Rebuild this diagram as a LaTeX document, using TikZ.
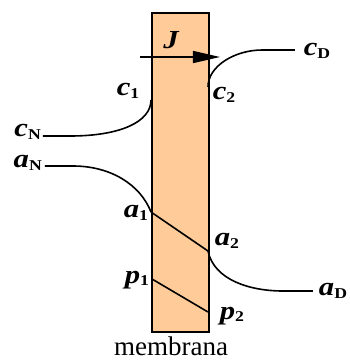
\documentclass[tikz,border=0pt]{standalone}
\usepackage{fontspec}
\usepackage{graphicx}
\setmainfont{Liberation Serif}
\usetikzlibrary{arrows.meta}
\definecolor{memfill}{HTML}{FFCC99}
\newcommand\lbl[2]{\scalebox{1.18}[1]{{\fontsize{26}{30}\selectfont\bfseries\itshape #1}\raisebox{-2.5pt}{\fontsize{15}{18}\selectfont\bfseries #2}}}
\tikzset{
  curve/.style={line width=1.6pt, black},
  membox/.style={draw=black, line width=1.8pt, fill=memfill},
  labeltext/.style={inner sep=0pt, font=\bfseries},
}
\begin{document}
\begin{tikzpicture}[x=1pt,y=-1pt]
\useasboundingbox (0,0) rectangle (350,360);
% membrane
\node[membox, minimum width=57pt, minimum height=319pt, inner sep=0pt, anchor=north west] (mem) at (151,12) {};
% points
\coordinate (c1) at (151,100);
\coordinate (c2) at (208,87);
\coordinate (cNs) at (43,136);
\coordinate (cNm) at (70,136);
\coordinate (cDm) at (262,50);
\coordinate (cDe) at (295,50);
\coordinate (aNs) at (45,166);
\coordinate (aNm) at (73,166);
\coordinate (a1) at (151,212);
\coordinate (a2) at (208,251);
\coordinate (aDm) at (283,291);
\coordinate (aDe) at (313,291);
\coordinate (p1) at (152,279);
\coordinate (p2) at (208,312);
\coordinate (Js) at (140,57);
\coordinate (Je) at (220,57);
% curves
\draw[curve] (cNs) -- (cNm) .. controls (120,136) and (151,122) .. (c1);
\draw[curve] (c2) .. controls (208,66) and (235,50) .. (cDm) -- (cDe);
\draw[curve] (aNs) -- (aNm) .. controls (110,166) and (140,184) .. (a1);
\draw[curve] (a1) -- (a2);
\draw[curve] (a2) .. controls (214,280) and (250,291) .. (aDm) -- (aDe);
\draw[curve] (p1) -- (p2);
\draw[line width=1.5pt, -{Triangle[length=27pt,width=12pt]}] (Js) -- (Je);
% labels
\node[labeltext] (lJ) at (171,40) {\scalebox{1.18}[1]{\fontsize{26}{30}\selectfont\bfseries\itshape J}};
\node[labeltext, anchor=east] (lcN) at (41,132) {\lbl{c}{N}};
\node[labeltext, anchor=east] (laN) at (42,163) {\lbl{a}{N}};
\node[labeltext] (lc1) at (128,91) {\lbl{c}{1}};
\node[labeltext] (lc2) at (224,95) {\lbl{c}{2}};
\node[labeltext] (lcD) at (317,51) {\lbl{c}{D}};
\node[labeltext] (la1) at (136,213) {\lbl{a}{1}};
\node[labeltext] (la2) at (227,241) {\lbl{a}{2}};
\node[labeltext] (lp1) at (137,280) {\lbl{p}{1}};
\node[labeltext] (lp2) at (232,316) {\lbl{p}{2}};
\node[labeltext] (laD) at (333,291) {\lbl{a}{D}};
\node[inner sep=0pt] (lmem) at (171,346) {\fontsize{27}{30}\selectfont membrana};
\end{tikzpicture}
\end{document}
